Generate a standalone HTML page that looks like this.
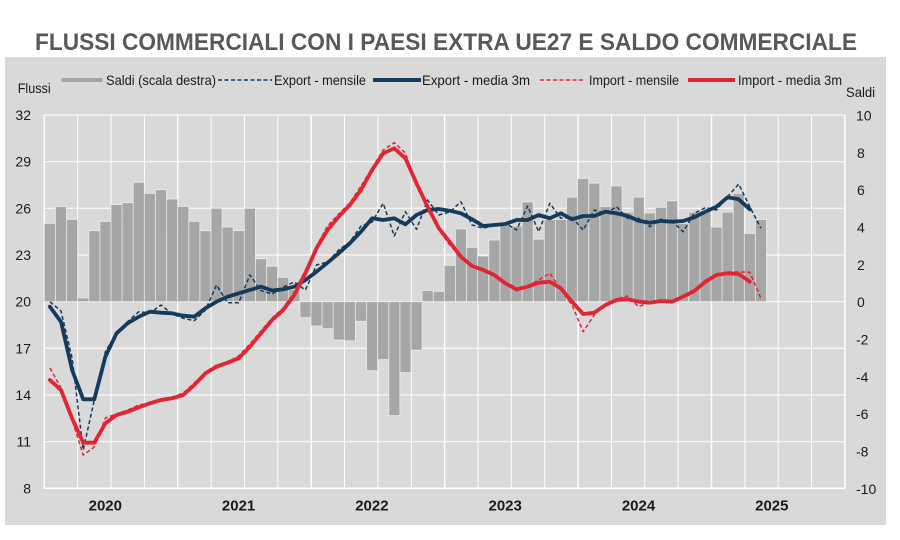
<!DOCTYPE html>
<html><head><meta charset="utf-8"><style>
html,body{margin:0;padding:0;background:#fff;}
svg{display:block;}
text{font-family:"Liberation Sans",Arial,sans-serif;}
</style></head><body>
<svg width="900" height="540" viewBox="0 0 900 540" xmlns="http://www.w3.org/2000/svg">
<rect x="0" y="0" width="900" height="540" fill="#ffffff"/>
<text x="35" y="50" font-size="24" font-weight="bold" fill="#595959" textLength="822" lengthAdjust="spacingAndGlyphs">FLUSSI COMMERCIALI CON I PAESI EXTRA UE27 E SALDO COMMERCIALE</text>
<rect x="5" y="57" width="881" height="468" fill="#d9d9d9"/>
<path fill="none" stroke="#ffffff" stroke-width="1" d="M44.3 115H844.9M44.3 161.7H844.9M44.3 208.3H844.9M44.3 255H844.9M44.3 301.7H844.9M44.3 348.3H844.9M44.3 395H844.9M44.3 441.7H844.9M77.7 115V488.3M111 115V488.3M144.4 115V488.3M211.1 115V488.3M244.5 115V488.3M277.8 115V488.3M344.5 115V488.3M377.9 115V488.3M411.3 115V488.3M478 115V488.3M511.3 115V488.3M544.7 115V488.3M611.4 115V488.3M644.8 115V488.3M678.1 115V488.3M744.9 115V488.3M778.2 115V488.3M811.6 115V488.3"/>
<path fill="none" stroke="#ffffff" stroke-width="1.5" d="M44.3 488.3H844.9M44.3 115V488.3M844.9 115V488.3M177.7 115V488.3M311.2 115V488.3M444.6 115V488.3M578.1 115V488.3M711.5 115V488.3"/>
<path fill="#a6a6a6" stroke="#ececec" stroke-width="0.8" d="M44.3 223.3h11.1v78.4h-11.1zM55.4 206.5h11.1v95.2h-11.1zM66.5 219.5h11.1v82.1h-11.1zM77.7 297.9h11.1v3.7h-11.1zM88.8 230.7h11.1v70.9h-11.1zM99.9 221.4h11.1v80.3h-11.1zM111 204.6h11.1v97.1h-11.1zM122.1 202.7h11.1v98.9h-11.1zM133.2 182.2h11.1v119.5h-11.1zM144.3 193.4h11.1v108.3h-11.1zM155.4 189.7h11.1v112h-11.1zM166.5 199h11.1v102.7h-11.1zM177.7 206.5h11.1v95.2h-11.1zM188.8 221.4h11.1v80.3h-11.1zM199.9 230.7h11.1v70.9h-11.1zM211 208.3h11.1v93.3h-11.1zM222.1 227h11.1v74.7h-11.1zM233.2 230.7h11.1v70.9h-11.1zM244.3 208.3h11.1v93.3h-11.1zM255.4 258.7h11.1v42.9h-11.1zM266.5 266.2h11.1v35.5h-11.1zM277.7 277.4h11.1v24.3h-11.1zM288.8 289.5h11.1v12.1h-11.1zM299.9 301.7h11.1v15.9h-11.1zM311 301.7h11.1v24.3h-11.1zM322.1 301.7h11.1v27.1h-11.1zM333.2 301.7h11.1v38.3h-11.1zM344.3 301.7h11.1v39.2h-11.1zM355.4 301.7h11.1v19.6h-11.1zM366.5 301.7h11.1v69.1h-11.1zM377.7 301.7h11.1v57.9h-11.1zM388.8 301.7h11.1v113.9h-11.1zM399.9 301.7h11.1v70.9h-11.1zM411 301.7h11.1v48.5h-11.1zM422.1 290.5h11.1v11.2h-11.1zM433.2 291.4h11.1v10.3h-11.1zM444.3 265.3h11.1v36.4h-11.1zM455.4 228.9h11.1v72.8h-11.1zM466.5 247.5h11.1v54.1h-11.1zM477.6 256h11.1v45.7h-11.1zM488.8 240h11.1v61.6h-11.1zM499.9 225.1h11.1v76.5h-11.1zM511 226h11.1v75.6h-11.1zM522.1 201.8h11.1v99.9h-11.1zM533.2 239.1h11.1v62.5h-11.1zM544.3 219.5h11.1v82.1h-11.1zM555.4 219.5h11.1v82.1h-11.1zM566.5 197.1h11.1v104.5h-11.1zM577.6 178.5h11.1v123.2h-11.1zM588.8 183.1h11.1v118.5h-11.1zM599.9 206.5h11.1v95.2h-11.1zM611 185.9h11.1v115.7h-11.1zM622.1 212.1h11.1v89.6h-11.1zM633.2 197.1h11.1v104.5h-11.1zM644.3 213h11.1v88.7h-11.1zM655.4 207.4h11.1v94.3h-11.1zM666.5 200.9h11.1v100.8h-11.1zM677.6 223.3h11.1v78.4h-11.1zM688.8 212.1h11.1v89.6h-11.1zM699.9 210.2h11.1v91.5h-11.1zM711 227h11.1v74.7h-11.1zM722.1 212.1h11.1v89.6h-11.1zM733.2 193.4h11.1v108.3h-11.1zM744.3 233.5h11.1v68.1h-11.1zM755.4 219.5h11.1v82.1h-11.1z"/>
<polyline fill="none" stroke="#163a5a" stroke-width="1.5" stroke-dasharray="4,2.5" stroke-linejoin="round" points="49.9,301.7 61.0,311 72.1,358 83.2,450 94.3,400 105.4,351.7 116.5,333 127.6,321.7 138.8,311.7 149.9,313 161.0,305 172.1,314 183.2,318.3 194.3,320.7 205.4,310 216.5,285 227.6,302.7 238.7,302.7 249.9,275 261.0,290.7 272.1,294 283.2,287 294.3,282 305.4,290 316.5,265 327.6,262 338.7,250 349.8,242 361.0,226 372.1,222 383.2,203.3 394.3,236 405.4,211.7 416.5,229.3 427.6,200 438.7,215 449.8,212 460.9,201.7 472.1,225 483.2,228.3 494.3,225 505.4,223 516.5,230 527.6,206 538.7,231.7 549.8,203.3 560.9,218.3 572.0,217.3 583.2,230 594.3,210 605.4,213.3 616.5,206.7 627.6,218.3 638.7,218.3 649.8,226.7 660.9,219.3 672.0,221 683.1,231.7 694.3,213.3 705.4,207.7 716.5,210 727.6,196.7 738.7,184 749.8,206.7 760.9,228.3"/>
<polyline fill="none" stroke="#163a5a" stroke-width="3.8" stroke-linejoin="round" stroke-linecap="round" points="49.9,306.7 61.0,321.7 72.1,370 83.2,399.3 94.3,399.3 105.4,356.7 116.5,333.3 127.6,323.3 138.8,316.7 149.9,311.7 161.0,312.7 172.1,313.3 183.2,315.7 194.3,316.7 205.4,308.3 216.5,301.7 227.6,296.7 238.7,293.3 249.9,290 261.0,286.7 272.1,290.5 283.2,289.3 294.3,286.7 305.4,280 316.5,271.7 327.6,262.7 338.7,253.3 349.8,243.3 361.0,231.7 372.1,218.3 383.2,220 394.3,218.3 405.4,224.3 416.5,215 427.6,210 438.7,209 449.8,210.7 460.9,213.3 472.1,219.3 483.2,226 494.3,225 505.4,224 516.5,220 527.6,220 538.7,215 549.8,218.3 560.9,213.3 572.0,219.3 583.2,216 594.3,216 605.4,211.7 616.5,213.3 627.6,216 638.7,220.7 649.8,222.7 660.9,221 672.0,221.7 683.1,221 694.3,217.3 705.4,211.7 716.5,206.7 727.6,197.3 738.7,199.3 749.8,209.3"/>
<polyline fill="none" stroke="#e02533" stroke-width="1.5" stroke-dasharray="4,2.5" stroke-linejoin="round" points="49.9,368 61.0,388 72.1,420 83.2,455 94.3,447 105.4,418 116.5,414 127.6,410 138.8,405 149.9,403 161.0,399 172.1,397 183.2,393 194.3,383 205.4,372 216.5,365 227.6,362 238.7,356 249.9,344 261.0,331 272.1,318 283.2,308 294.3,292 305.4,270 316.5,246 327.6,226 338.7,214 349.8,203 361.0,186 372.1,168 383.2,150 394.3,142.7 405.4,153 416.5,185 427.6,208 438.7,230 449.8,245 460.9,257 472.1,266 483.2,271 494.3,276 505.4,284 516.5,291 527.6,286 538.7,280 549.8,273.3 560.9,290 572.0,305 583.2,331.7 594.3,315 605.4,304 616.5,299 627.6,296 638.7,306.7 649.8,302 660.9,302 672.0,302 683.1,296 694.3,290 705.4,280 716.5,274 727.6,272 738.7,272 749.8,272.3 760.9,298.3"/>
<polyline fill="none" stroke="#e02533" stroke-width="3.8" stroke-linejoin="round" stroke-linecap="round" points="49.9,380 61.0,390 72.1,418.3 83.2,442.7 94.3,442.7 105.4,423.3 116.5,415 127.6,411.7 138.8,407.3 149.9,403.3 161.0,400 172.1,398.3 183.2,395 194.3,385 205.4,373.3 216.5,366.7 227.6,362.7 238.7,358.3 249.9,346.7 261.0,333.3 272.1,320 283.2,310 294.3,295 305.4,273.3 316.5,248.3 327.6,230 338.7,216.7 349.8,205 361.0,190 372.1,170 383.2,153.3 394.3,148.3 405.4,158.3 416.5,183.3 427.6,206.7 438.7,228 449.8,242 460.9,256.7 472.1,266 483.2,270 494.3,275 505.4,283.3 516.5,289.3 527.6,286.7 538.7,282.7 549.8,281.7 560.9,288.3 572.0,301.7 583.2,314 594.3,312.7 605.4,305 616.5,300 627.6,299.3 638.7,301.7 649.8,302.7 660.9,301 672.0,301.7 683.1,296.7 694.3,291 705.4,281.7 716.5,275 727.6,273.3 738.7,274 749.8,281.7"/>
<rect x="61" y="77.5" width="42" height="5" fill="#a6a6a6" stroke="#ececec" stroke-width="0.6"/>
<text x="106" y="85" font-size="14" fill="#1a1a1a" textLength="110" lengthAdjust="spacingAndGlyphs">Saldi (scala destra)</text>
<line x1="218" y1="80" x2="272" y2="80" stroke="#163a5a" stroke-width="1.5" stroke-dasharray="4,2.5"/>
<text x="274" y="85" font-size="14" fill="#1a1a1a" textLength="92" lengthAdjust="spacingAndGlyphs">Export - mensile</text>
<line x1="373" y1="80" x2="421" y2="80" stroke="#163a5a" stroke-width="4"/>
<text x="422" y="85" font-size="14" fill="#1a1a1a" textLength="108" lengthAdjust="spacingAndGlyphs">Export - media 3m</text>
<line x1="540" y1="80" x2="583" y2="80" stroke="#e02533" stroke-width="1.5" stroke-dasharray="4,2.5"/>
<text x="589" y="85" font-size="14" fill="#1a1a1a" textLength="90" lengthAdjust="spacingAndGlyphs">Import - mensile</text>
<line x1="688" y1="80" x2="735" y2="80" stroke="#e02533" stroke-width="4"/>
<text x="738" y="85" font-size="14" fill="#1a1a1a" textLength="104" lengthAdjust="spacingAndGlyphs">Import - media 3m</text>
<text x="17.7" y="93" font-size="14" fill="#1a1a1a" textLength="33" lengthAdjust="spacingAndGlyphs">Flussi</text>
<text x="846" y="97" font-size="14" fill="#1a1a1a" textLength="29" lengthAdjust="spacingAndGlyphs">Saldi</text>
<g font-size="14" fill="#1a1a1a" text-anchor="end">
<text x="31" y="120">32</text><text x="31" y="166.7">29</text><text x="31" y="213.3">26</text><text x="31" y="260">23</text><text x="31" y="306.7">20</text><text x="31" y="353.3">17</text><text x="31" y="400">14</text><text x="31" y="446.7">11</text><text x="31" y="493.3">8</text>
</g>
<g font-size="14" fill="#1a1a1a">
<text x="856" y="120.5">10</text><text x="857" y="157.8">8</text><text x="857" y="195.2">6</text><text x="857" y="232.5">4</text><text x="857" y="269.8">2</text><text x="857" y="307.2">0</text><text x="856" y="344.5">-2</text><text x="856" y="381.8">-4</text><text x="856" y="419.1">-6</text><text x="856" y="456.5">-8</text><text x="856" y="493.8">-10</text>
</g>
<g font-size="15" font-weight="bold" fill="#1a1a1a" text-anchor="middle">
<text x="105.3" y="510.5">2020</text><text x="238.6" y="510.5">2021</text><text x="371.9" y="510.5">2022</text><text x="505.2" y="510.5">2023</text><text x="638.5" y="510.5">2024</text><text x="771.8" y="510.5">2025</text>
</g>
</svg>
</body></html>
